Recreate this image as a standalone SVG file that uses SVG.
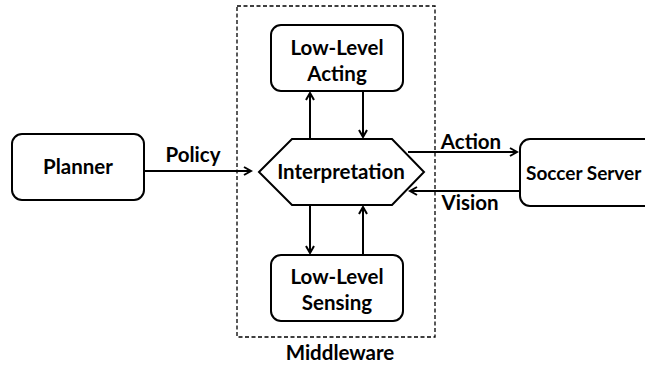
<svg xmlns="http://www.w3.org/2000/svg" width="645" height="367" viewBox="0 0 645 367">
<style>
.box{fill:#fff;stroke:#000;stroke-width:2}
.t{font-family:Lato,"Open Sans","Liberation Sans",sans-serif;font-weight:bold;font-size:20.5px;fill:#000;text-anchor:middle}
.c{stroke:#000;stroke-width:2;fill:none}
</style>
<defs>
<marker id="ah" markerWidth="10" markerHeight="10" refX="8" refY="5" orient="auto" markerUnits="userSpaceOnUse">
<path d="M1,1 L8,5 L1,9" fill="none" stroke="#000" stroke-width="2"/>
</marker>
</defs>
<rect id="middleware" x="237" y="6" width="198" height="331" fill="none" stroke="#000" stroke-width="1.3" stroke-dasharray="4,2.5"/>
<text class="t" x="340" y="360">Middleware</text>
<g id="planner">
<rect class="box" x="12" y="134" width="132" height="66" rx="10"/>
<text class="t" x="78" y="174">Planner</text>
</g>
<g id="acting">
<rect class="box" x="271" y="25" width="132" height="66" rx="10"/>
<text class="t" x="337" y="55">Low-Level</text>
<text class="t" x="337" y="81">Acting</text>
</g>
<g id="interpretation">
<polygon class="box" points="259,172 292,139 392,139 424,172 392,205 292,205"/>
<text class="t" x="341" y="179">Interpretation</text>
</g>
<g id="sensing">
<rect class="box" x="271" y="255" width="132" height="66" rx="10"/>
<text class="t" x="337" y="284">Low-Level</text>
<text class="t" x="337" y="310">Sensing</text>
</g>
<g id="soccer">
<rect class="box" x="520" y="139" width="140" height="67" rx="10"/>
<text class="t" x="526" y="180" style="text-anchor:start;font-size:19px">Soccer Server</text>
</g>
<g id="connectors">
<line class="c" x1="144" y1="171" x2="251" y2="171" marker-end="url(#ah)"/>
<line class="c" x1="310" y1="139" x2="310" y2="93" marker-end="url(#ah)"/>
<line class="c" x1="363" y1="91" x2="363" y2="137" marker-end="url(#ah)"/>
<line class="c" x1="310" y1="205" x2="310" y2="253" marker-end="url(#ah)"/>
<line class="c" x1="363" y1="255" x2="363" y2="207" marker-end="url(#ah)"/>
<line class="c" x1="408" y1="152" x2="517" y2="152" marker-end="url(#ah)"/>
<line class="c" x1="520" y1="191" x2="410" y2="191" marker-end="url(#ah)"/>
</g>
<text class="t" x="193" y="162">Policy</text>
<text class="t" x="471" y="149">Action</text>
<text class="t" x="470" y="210">Vision</text>
</svg>
